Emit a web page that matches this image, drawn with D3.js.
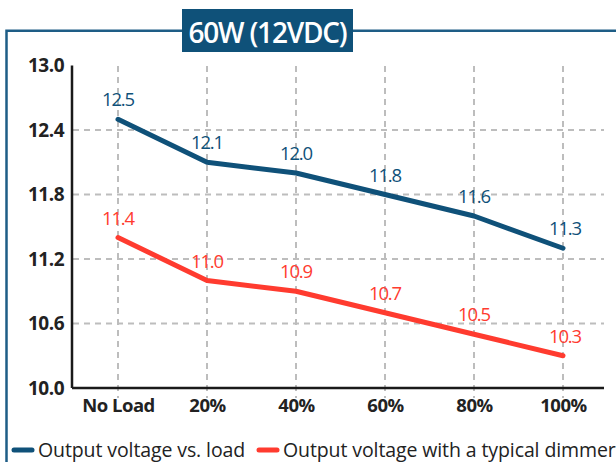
<!DOCTYPE html>
<html><head><meta charset="utf-8">
<script src="https://cdn.jsdelivr.net/npm/d3@7"></script>
<style>
html,body{margin:0;padding:0;background:#fff;}
svg{display:block;font-family:"Open Sans","Noto Sans",sans-serif;}
</style></head>
<body>
<svg id="chart" width="616" height="462"></svg>
<script>
const categories = ["No Load","20%","40%","60%","80%","100%"];
const loadValues = [12.5,12.1,12.0,11.8,11.6,11.3];
const dimmerValues = [11.4,11.0,10.9,10.7,10.5,10.3];
const yTicks = [10.0,10.6,11.2,11.8,12.4,13.0];
const seriesNames = ["Output voltage vs. load","Output voltage with a typical dimmer"];
const title = "60W (12VDC)";

const blue = "#0f5179", red = "#ff3b2f", frame = "#1e5d86";
const svg = d3.select("#chart");

// frame
svg.append("path").attr("d","M6.5,470 V30.8 H640").attr("fill","none").attr("stroke",frame).attr("stroke-width",2.5);
// title box
svg.append("rect").attr("x",182).attr("y",9).attr("width",171).attr("height",43).attr("fill","#0f5179");
svg.append("text").attr("x",267.5).attr("y",43).attr("text-anchor","middle").attr("fill","#fff")
  .attr("font-size",28).attr("font-weight",600).attr("letter-spacing",-1.2).text(title);

const x = d3.scalePoint().domain(categories).range([118,563]);
const y = d3.scaleLinear().domain([10,13]).range([388,65.5]);

// grid
const g = svg.append("g");
g.selectAll(".hg").data(yTicks.slice(1,5)).join("line")
  .attr("x1",73).attr("x2",604).attr("y1",d=>y(d)).attr("y2",d=>y(d))
  .attr("stroke","#bdbdbd").attr("stroke-width",2).attr("stroke-dasharray","6,5");
g.selectAll(".vg").data(categories).join("line")
  .attr("x1",d=>x(d)).attr("x2",d=>x(d)).attr("y1",66).attr("y2",398)
  .attr("stroke","#bdbdbd").attr("stroke-width",2).attr("stroke-dasharray","6,5");

// axes
const yAxis = svg.append("g").attr("transform","translate(72,0)")
  .call(d3.axisLeft(y).tickValues(yTicks).tickFormat(d3.format(".1f")).tickSize(0).tickPadding(8));
yAxis.select(".domain").attr("d",`M0,${y(13)}V${y(10)}`).attr("stroke","#1a1a1a").attr("stroke-width",2.5);
yAxis.selectAll("text").attr("font-size",19).attr("font-weight",700).attr("fill","#222")
  .attr("letter-spacing",-0.5).attr("font-family","Open Sans, sans-serif");

const xAxis = svg.append("g").attr("transform",`translate(0,${y(10)})`)
  .call(d3.axisBottom(x).tickSize(0).tickPadding(11));
xAxis.select(".domain").attr("d","M72,0H604").attr("stroke","#1a1a1a").attr("stroke-width",2.5);
xAxis.selectAll("text").attr("font-size",18.5).attr("font-weight",700).attr("fill","#222")
  .attr("letter-spacing",-0.5).attr("font-family","Open Sans, sans-serif");

// lines
const line = d3.line().x((d,i)=>x(categories[i])).y(d=>y(d));
[[loadValues,blue],[dimmerValues,red]].forEach(([vals,col])=>{
  svg.append("path").datum(vals).attr("d",line).attr("fill","none").attr("stroke",col)
    .attr("stroke-width",5).attr("stroke-linecap","round").attr("stroke-linejoin","round");
  svg.selectAll(null).data(vals).join("text")
    .attr("x",(d,i)=>x(categories[i])+ (i===5?2:0)).attr("y",d=>y(d)-13)
    .attr("text-anchor","middle").attr("font-size",18.5).attr("fill",col).attr("letter-spacing",-1.2)
    .text(d=>d3.format(".1f")(d));
});

// legend
const leg = [{n:seriesNames[0],c:blue,x:12},{n:seriesNames[1],c:red,x:257}];
leg.forEach(l=>{
  svg.append("line").attr("x1",l.x+2).attr("x2",l.x+20).attr("y1",450).attr("y2",450)
    .attr("stroke",l.c).attr("stroke-width",5).attr("stroke-linecap","round");
  svg.append("text").attr("x",l.x+26).attr("y",457).attr("font-size",19.5).attr("fill","#222")
    .attr("letter-spacing",-0.1).text(l.n);
});
</script>
</body></html>
